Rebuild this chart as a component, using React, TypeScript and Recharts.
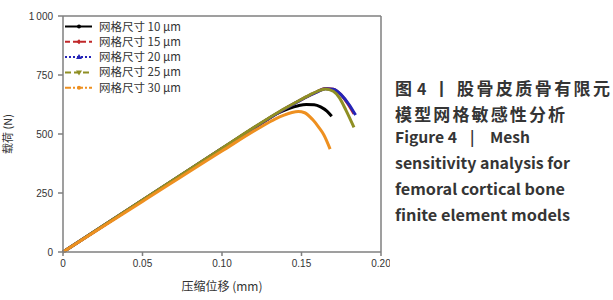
import React from 'react';
import { LineChart, Line, XAxis, YAxis, ReferenceLine } from 'recharts';

// axis ticks
const xTicks = [0, 0.05, 0.1, 0.15, 0.2];
const xTickLabels = ['0', '0.05', '0.10', '0.15', '0.20'];
const yTicks = [0, 250, 500, 750, 1000];
const yTickLabels = ['0', '250', '500', '750', '1\u2009000'];

const seriesNames = ['网格尺寸 10 µm', '网格尺寸 15 µm', '网格尺寸 20 µm', '网格尺寸 25 µm', '网格尺寸 30 µm'];

// displacement (mm) / load (N) per mesh size
const disp10 = [0, 0.05, 0.1, 0.125, 0.135, 0.142, 0.148, 0.153, 0.158, 0.162, 0.166, 0.169];
const load10 = [0, 219, 438, 547, 588, 608, 620, 625, 624, 615, 597, 575];
const disp15 = [0, 0.05, 0.1, 0.13, 0.14, 0.148, 0.155, 0.16, 0.165, 0.17, 0.175, 0.179, 0.183];
const load15 = [0, 219, 438, 568, 609, 639, 664, 680, 693, 690, 665, 630, 586];
const disp20 = [0, 0.05, 0.1, 0.13, 0.14, 0.148, 0.155, 0.16, 0.165, 0.17, 0.175, 0.18, 0.184];
const load20 = [0, 219, 438, 568, 608, 638, 663, 679, 692, 690, 666, 624, 580];
const disp25 = [0, 0.05, 0.1, 0.13, 0.14, 0.148, 0.155, 0.16, 0.165, 0.17, 0.174, 0.178, 0.183];
const load25 = [0, 220, 440, 570, 610, 640, 665, 681, 691, 681, 652, 600, 528];
const disp30 = [0, 0.05, 0.1, 0.125, 0.133, 0.139, 0.144, 0.148, 0.152, 0.157, 0.161, 0.164, 0.168];
const load30 = [0, 214, 428, 532, 562, 580, 591, 595, 590, 561, 527, 497, 436];

const colors = ['#000000', '#c0282a', '#2424b8', '#8f8f24', '#ee9020'];
const dashes = ['', '5 3', '2 2', '6 3', '6 2 2 2'];

const toPoints = (xs: number[], ys: number[]) => xs.map((x, i) => ({ x, y: ys[i] }));
const series = [
  toPoints(disp10, load10),
  toPoints(disp15, load15),
  toPoints(disp20, load20),
  toPoints(disp25, load25),
  toPoints(disp30, load30),
];

const tickStyle = { fontSize: 10, fill: '#333', fontFamily: 'Liberation Sans, sans-serif' };
const cjk = 'Noto Sans CJK SC, sans-serif';

const LegendMarker = ({ i, cx, cy }: { i: number; cx: number; cy: number }) => {
  const c = colors[i];
  if (i === 0 || i === 4) return <circle cx={cx} cy={cy} r={2} fill={c} />;
  if (i === 1) return <path d={`M${cx - 2.5},${cy}L${cx},${cy - 2.5}L${cx + 2.5},${cy}L${cx},${cy + 2.5}Z`} fill={c} />;
  if (i === 2) return <path d={`M${cx - 3},${cy + 2}L${cx + 3},${cy + 2}L${cx},${cy - 3}Z`} fill={c} />;
  return <path d={`M${cx - 3},${cy - 2}L${cx + 3},${cy - 2}L${cx},${cy + 3}Z`} fill={c} />;
};

const ChartLegend = () => (
  <svg width={140} height={80} style={{ position: 'absolute', left: 62, top: 18 }}>
    {seriesNames.map((name, i) => {
      const y = 8.5 + i * 15.3;
      return (
        <g key={name}>
          <line x1={3} x2={30} y1={y} y2={y} stroke={colors[i]} strokeWidth={2} strokeDasharray={dashes[i]} />
          <LegendMarker i={i} cx={17} cy={y} />
          <text x={37} y={y + 4} fontSize={11.5} fill="#333" fontFamily={cjk}>
            {name}
          </text>
        </g>
      );
    })}
  </svg>
);

const Caption = () => {
  const font = 'Noto Sans CJK SC, Open Sans, sans-serif';
  const fill = '#353535';
  return (
    <svg width={230} height={300} style={{ position: 'absolute', left: 383, top: 0 }}>
      <g fontFamily={font} fontWeight="bold" fill={fill}>
        <text x={12} y={95} fontSize={17}>图</text>
        <text x={34} y={95} fontSize={16}>4</text>
        <text x={50} y={95} fontSize={17}>丨</text>
        <text x={74} y={95} fontSize={17} textLength={153} lengthAdjust="spacing">股骨皮质骨有限元</text>
        <text x={12} y={121} fontSize={17} textLength={170} lengthAdjust="spacing">模型网格敏感性分析</text>
        <text x={12} y={143} fontSize={15} textLength={62} lengthAdjust="spacingAndGlyphs">Figure 4</text>
        <text x={87} y={143} fontSize={15}>|</text>
        <text x={107} y={143} fontSize={15} textLength={40} lengthAdjust="spacingAndGlyphs">Mesh</text>
        <text x={12} y={169} fontSize={15} textLength={175} lengthAdjust="spacingAndGlyphs">sensitivity analysis for</text>
        <text x={12} y={195} fontSize={15} textLength={170} lengthAdjust="spacingAndGlyphs">femoral cortical bone</text>
        <text x={12} y={221} fontSize={15} textLength={175} lengthAdjust="spacingAndGlyphs">finite element models</text>
      </g>
    </svg>
  );
};

export default function App() {
  return (
    <div style={{ position: 'absolute', left: 0, top: 0, width: 613, height: 300, background: '#fff' }}>
      <LineChart width={390} height={300} margin={{ top: 16, right: 9, left: 0, bottom: 0 }}>
        <XAxis
          type="number"
          dataKey="x"
          domain={[0, 0.2]}
          ticks={xTicks}
          tickFormatter={(v: number) => xTickLabels[xTicks.indexOf(v)] ?? String(v)}
          height={48}
          stroke="#7f7f7f"
          strokeWidth={1.5}
          tickSize={4}
          tickMargin={4}
          tick={tickStyle}
          allowDuplicatedCategory={false}
          label={{ value: '压缩位移 (mm)', position: 'insideBottom', offset: 9, style: { fontSize: 12, fill: '#333', fontFamily: cjk } }}
        />
        <YAxis
          type="number"
          dataKey="y"
          domain={[0, 1000]}
          ticks={yTicks}
          tickFormatter={(v: number) => yTickLabels[yTicks.indexOf(v)] ?? String(v)}
          width={63}
          stroke="#7f7f7f"
          strokeWidth={1.5}
          tickSize={5}
          tickMargin={5}
          tick={tickStyle}
          label={{ value: '载荷 (N)', angle: -90, position: 'insideLeft', offset: 8, style: { fontSize: 11, fill: '#333', fontFamily: cjk, textAnchor: 'middle' } }}
        />
        <ReferenceLine y={1000} stroke="#7f7f7f" strokeWidth={1.5} />
        <ReferenceLine x={0.2} stroke="#7f7f7f" strokeWidth={1.5} />
        {series.map((data, i) => (
          <Line
            key={seriesNames[i]}
            data={data}
            dataKey="y"
            type="monotone"
            stroke={colors[i]}
            strokeWidth={3}
            dot={false}
            isAnimationActive={false}
          />
        ))}
      </LineChart>
      <ChartLegend />
      <Caption />
    </div>
  );
}
